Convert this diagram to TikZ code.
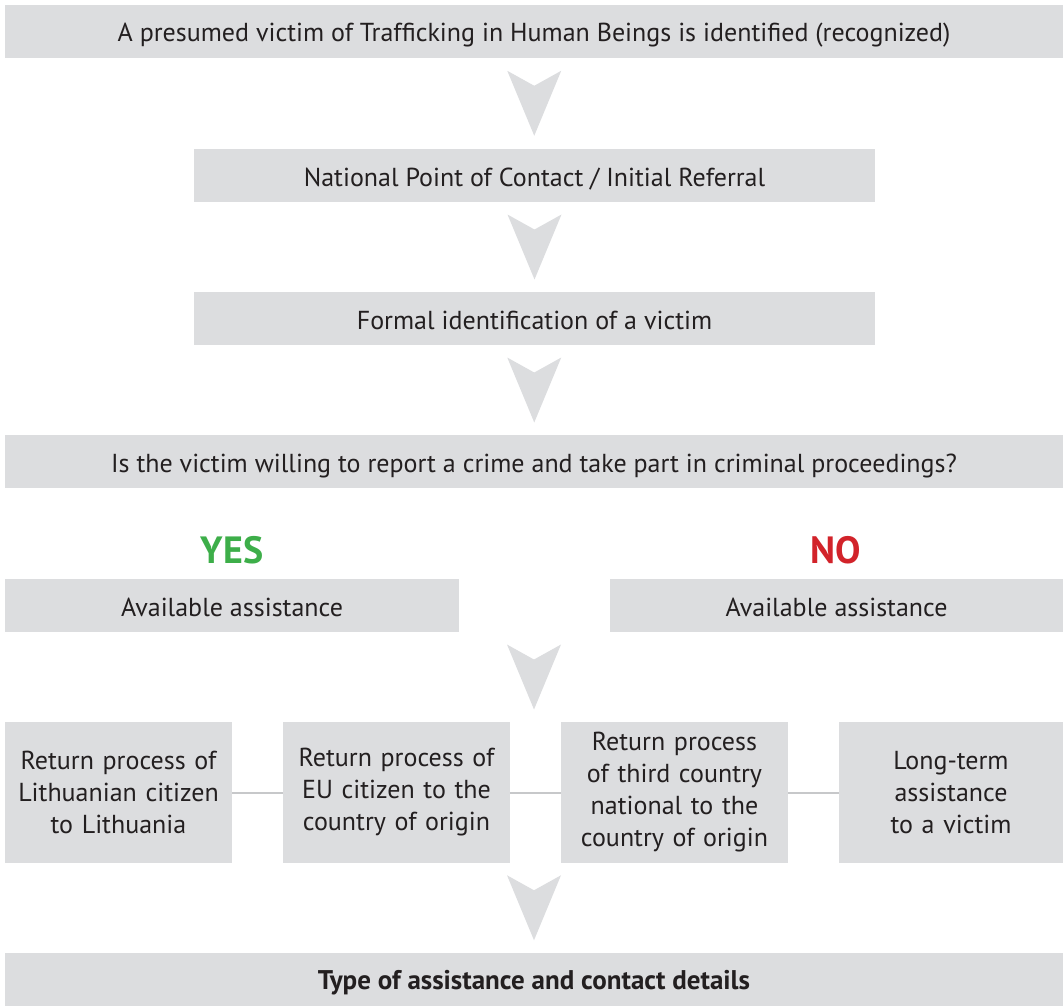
\documentclass[tikz,border=0pt]{standalone}
\usepackage{fontspec}
\setmainfont{PT Sans}
\usetikzlibrary{calc}
\definecolor{boxgray}{HTML}{DCDDDF}
\definecolor{inkdark}{HTML}{231F20}
\definecolor{yesgreen}{HTML}{3DAE49}
\definecolor{nored}{HTML}{D2232A}
\definecolor{linkgray}{HTML}{C7C8CA}
\tikzset{
  chevron/.pic = {\fill[boxgray] (-27pt,32.5pt) -- (0pt,17.5pt) -- (27pt,32.5pt) -- (0pt,-32.5pt) -- cycle;}
}

\begin{document}
\begin{tikzpicture}[x=1pt, y=-1pt, font=\fontsize{26}{32}\selectfont, text=inkdark,
    box/.style = {fill=boxgray, inner sep=0pt, minimum height=53pt},
    line/.style = {box, text height=21pt, text depth=0pt},
    wide/.style = {line, minimum width=1058pt},
    mid/.style = {line, minimum width=681pt},
    half/.style = {line, minimum width=454pt},
    option/.style = {box, minimum height=141pt, text width=215pt, align=center},
    answer/.style = {font=\fontsize{38}{40}\selectfont\bfseries},
    link/.style = {draw=linkgray, line width=2pt}]
    \useasboundingbox (0,0) rectangle (1063,1005);
    \node[wide] (found) at (534,31) {A presumed victim of Trafficking in Human Beings is identified (recognized)};
    \node[mid] (refer) at (534.5,175.5) {National Point of Contact / Initial Referral};
    \node[mid] (formal) at (534.5,318.5) {Formal identification of a victim};
    \node[wide] (ask) at (534,461.5) {Is the victim willing to report a crime and take part in criminal proceedings?};
    \node[answer, text=yesgreen] (yes) at (232,550) {YES};
    \node[answer, text=nored] (no) at (836,550) {NO};
    \node[half] (helpYes) at (232,605.5) {Available assistance};
    \node[half, minimum width=453pt] (helpNo) at (836.5,605.5) {Available assistance};
    \node[option, minimum width=227pt] (retLT) at (118.5,792.5) {Return process of\\Lithuanian citizen\\to Lithuania};
    \node[option, minimum width=227pt] (retEU) at (396.5,792.5) {Return process of\\EU citizen to the\\country of origin};
    \node[option, minimum width=227pt] (retThird) at (674.5,792.5) {Return process\\of third country\\national to the\\country of origin};
    \node[option, minimum width=224pt] (longTerm) at (951,792.5) {Long-term\\assistance\\to a victim};
    \node[wide] (contacts) at (534,979) {\fontsize{27}{32}\selectfont\bfseries Type of assistance and contact details};
    % chevrons between the steps
    \path ($(found.south)!0.5!(refer.north)$) pic {chevron};
    \path ($(refer.south)!0.5!(formal.north)$) pic {chevron};
    \path ($(formal.south)!0.5!(ask.north)$) pic {chevron};
    \path ($(found.south |- helpYes.south)!0.5!(found.south |- retLT.north)$) pic {chevron};
    \path ($(found.south |- retLT.south)!0.5!(contacts.north)$) pic {chevron};
    % lines between the options
    \draw[link] (retLT) -- (retEU);
    \draw[link] (retEU) -- (retThird);
    \draw[link] (retThird) -- (longTerm);
\end{tikzpicture}
\end{document}
